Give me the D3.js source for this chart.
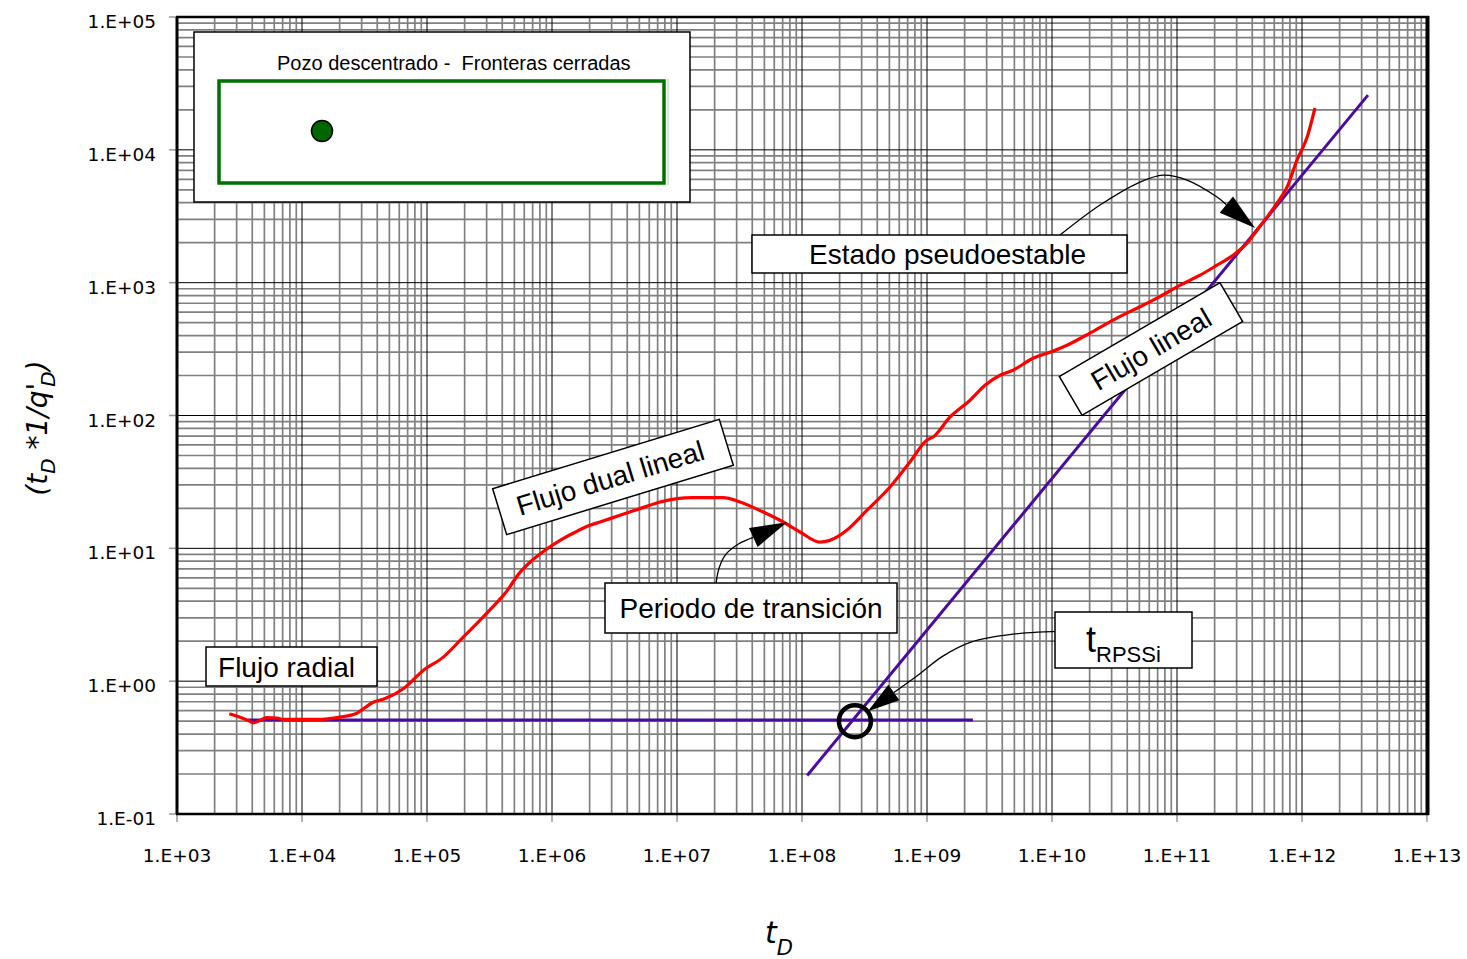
<!DOCTYPE html>
<html>
<head>
<meta charset="utf-8">
<script src="https://cdn.jsdelivr.net/npm/d3@7"></script>
<style>
  body { margin: 0; background: #fff; }
  svg { display: block; }
  .tick-label { font-family: "DejaVu Sans", sans-serif; font-size: 18.5px; fill: #000; }
  .note { font-family: "Liberation Sans", Arial, sans-serif; font-size: 28px; fill: #000; }
</style>
</head>
<body>
<div id="chart"></div>
<script>
'use strict';

// axis ticks
var xTicks = [1e3, 1e4, 1e5, 1e6, 1e7, 1e8, 1e9, 1e10, 1e11, 1e12, 1e13];
var xTickLabels = ['1.E+03', '1.E+04', '1.E+05', '1.E+06', '1.E+07', '1.E+08', '1.E+09', '1.E+10', '1.E+11', '1.E+12', '1.E+13'];
var yTicks = [1e-1, 1e0, 1e1, 1e2, 1e3, 1e4, 1e5];
var yTickLabels = ['1.E-01', '1.E+00', '1.E+01', '1.E+02', '1.E+03', '1.E+04', '1.E+05'];

// red curve: tD vs tD*1/qD'
var tD = [2.62e3, 3.19e3, 3.72e3, 4.07e3, 4.61e3, 5.22e3, 6.28e3, 7.08e3, 1.31e4, 2.01e4,
  2.74e4, 3.72e4, 4.47e4, 6.46e4, 9.33e4, 1.35e5, 1.95e5, 2.65e5, 3.63e5, 4.21e5,
  5.55e5, 6.67e5, 8.79e5, 1.16e6, 1.53e6, 2.01e6, 2.42e6, 3.50e6, 5.06e6, 7.31e6,
  1.35e7, 2.34e7, 3.19e7, 4.90e7, 7.08e7, 9.64e7, 1.39e8, 1.67e8, 2.28e8, 3.30e8,
  5.06e8, 7.31e8, 9.95e8, 1.12e9, 1.53e9, 2.21e9, 2.91e9, 3.84e9, 4.88e9, 7.05e9,
  9.64e9, 1.32e10, 2.01e10, 3.08e10, 4.45e10, 6.92e10, 1.06e11, 1.53e11, 2.09e11, 2.81e11,
  3.63e11, 4.37e11, 5.25e11, 6.31e11, 7.59e11, 9.12e11, 1.10e12, 1.27e12];
var tDq = [0.569, 0.536, 0.506, 0.486, 0.506, 0.531, 0.527, 0.515, 0.515, 0.536,
  0.574, 0.695, 0.730, 0.877, 1.205, 1.517, 2.148, 2.871, 3.917, 4.581,
  6.592, 7.852, 9.66, 11.48, 13.21, 14.89, 15.78, 17.74, 19.91, 22.34,
  24.10, 24.10, 22.34, 18.75, 15.78, 13.27, 11.14, 11.48, 13.68, 19.32,
  28.97, 44.67, 65.16, 68.87, 97.5, 130.3, 169.0, 200.9, 219.3, 269.8,
  299.2, 338.1, 416.9, 522.4, 620.9, 763.8, 957.4, 1138, 1355, 1611,
  1986, 2483, 3112, 3972, 5236, 8375, 12470, 20650];

// straight lines (radial flow, linear flow)
var radialT = [3.70e3, 2.33e9];
var radialV = [0.51, 0.51];
var linearT = [1.10e8, 3.37e12];
var linearV = [0.195, 2.58e4];

// marked points
var tRPSSi = [2.65e8, 0.5];
var pssTarget = [4.21e11, 2576];
var transTarget = [7.59e7, 15.7];

var width = 1467, height = 959;
var margin = {left: 177, right: 40, top: 17, bottom: 145};

var svg = d3.select('#chart').append('svg')
    .attr('width', width)
    .attr('height', height);

svg.append('rect').attr('width', width).attr('height', height).attr('fill', '#fff');

var x = d3.scaleLog()
  .domain([1e3, 1e13])
  .range([margin.left, width - margin.right]);

var y = d3.scaleLog()
  .domain([1e-1, 1e5])
  .range([height - margin.bottom, margin.top]);

var x0 = x.range()[0], x1 = x.range()[1];
var y0 = y.range()[1], y1 = y.range()[0];

// gridlines, 1..9 per decade
var xGrid = [], yGrid = [];
d3.range(3, 13).forEach(function(d) {
  d3.range(2, 10).forEach(function(k) { xGrid.push(k * Math.pow(10, d)); });
});
d3.range(-1, 5).forEach(function(d) {
  d3.range(2, 10).forEach(function(k) { yGrid.push(k * Math.pow(10, d)); });
});

var grid = svg.append('g').attr('class', 'grid');

grid.selectAll('line.vminor')
  .data(xGrid)
  .enter().append('line')
  .attr('x1', function(d) { return x(d); })
  .attr('x2', function(d) { return x(d); })
  .attr('y1', y0).attr('y2', y1)
  .attr('stroke', '#808080')
  .attr('stroke-width', 1.7);

grid.selectAll('line.hminor')
  .data(yGrid)
  .enter().append('line')
  .attr('y1', function(d) { return y(d); })
  .attr('y2', function(d) { return y(d); })
  .attr('x1', x0).attr('x2', x1)
  .attr('stroke', '#808080')
  .attr('stroke-width', 1.7);

grid.selectAll('line.vmajor')
  .data(xTicks)
  .enter().append('line')
  .attr('x1', function(d) { return x(d); })
  .attr('x2', function(d) { return x(d); })
  .attr('y1', y0).attr('y2', y1)
  .attr('stroke', '#000')
  .attr('stroke-width', 1);

grid.selectAll('line.hmajor')
  .data(yTicks)
  .enter().append('line')
  .attr('y1', function(d) { return y(d); })
  .attr('y2', function(d) { return y(d); })
  .attr('x1', x0).attr('x2', x1)
  .attr('stroke', '#000')
  .attr('stroke-width', 1);

// outside tick marks + labels
var axes = svg.append('g');

axes.selectAll('line.xt')
  .data(xTicks)
  .enter().append('line')
  .attr('x1', function(d) { return x(d); })
  .attr('x2', function(d) { return x(d); })
  .attr('y1', y1).attr('y2', y1 + 8)
  .attr('stroke', '#999').attr('stroke-width', 1.5);

axes.selectAll('line.yt')
  .data(yTicks)
  .enter().append('line')
  .attr('y1', function(d) { return y(d); })
  .attr('y2', function(d) { return y(d); })
  .attr('x1', x0 - 8).attr('x2', x0)
  .attr('stroke', '#999').attr('stroke-width', 1.5);

axes.selectAll('text.xl')
  .data(xTicks)
  .enter().append('text')
  .attr('class', 'tick-label')
  .attr('x', function(d) { return x(d); })
  .attr('y', y1 + 48)
  .attr('text-anchor', 'middle')
  .text(function(d, i) { return xTickLabels[i]; });

axes.selectAll('text.yl')
  .data(yTicks)
  .enter().append('text')
  .attr('class', 'tick-label')
  .attr('x', x0 - 21)
  .attr('y', function(d) { return y(d) + 11; })
  .attr('text-anchor', 'end')
  .text(function(d, i) { return yTickLabels[i]; });

// axis titles
var xTitle = svg.append('text')
  .attr('x', 765).attr('y', 943)
  .attr('font-family', '"DejaVu Sans", sans-serif')
  .attr('font-style', 'italic')
  .attr('font-size', 30);
xTitle.append('tspan').text('t');
xTitle.append('tspan').attr('font-size', 21).attr('dy', 12).text('D');

var yTitle = svg.append('text')
  .attr('transform', 'translate(47,428) rotate(-90)')
  .attr('text-anchor', 'middle')
  .attr('font-family', '"DejaVu Sans", sans-serif')
  .attr('font-style', 'italic')
  .attr('font-size', 28);
yTitle.append('tspan').text('(t');
yTitle.append('tspan').attr('font-size', 20).attr('dy', 8).text('D');
yTitle.append('tspan').attr('dy', -8).text(' *1/q\'');
yTitle.append('tspan').attr('font-size', 20).attr('dy', 8).attr('dx', -4).text('D');
yTitle.append('tspan').attr('dy', -8).text(')');

// series
svg.append('clipPath').attr('id', 'plot-clip')
  .append('rect').attr('x', x0).attr('y', y0).attr('width', x1 - x0).attr('height', y1 - y0);

var plot = svg.append('g').attr('clip-path', 'url(#plot-clip)');

var line = d3.line()
  .x(function(d) { return x(d[0]); })
  .y(function(d) { return y(d[1]); });

plot.append('path')
  .datum(d3.zip(radialT, radialV))
  .attr('d', line)
  .attr('fill', 'none')
  .attr('stroke', '#4b0c9e')
  .attr('stroke-width', 3);

plot.append('path')
  .datum(d3.zip(linearT, linearV))
  .attr('d', line)
  .attr('fill', 'none')
  .attr('stroke', '#4b0c9e')
  .attr('stroke-width', 3);

plot.append('path')
  .datum(d3.zip(tD, tDq))
  .attr('d', line.curve(d3.curveMonotoneX))
  .attr('fill', 'none')
  .attr('stroke', '#ff0000')
  .attr('stroke-width', 3.2)
  .attr('stroke-linejoin', 'round');

// plot border
var border = svg.append('g').attr('stroke', '#000').attr('fill', 'none');
border.append('line').attr('x1', x0 - 1).attr('x2', x1 + 2).attr('y1', y0).attr('y2', y0).attr('stroke-width', 2.5);
border.append('line').attr('x1', x0 - 1).attr('x2', x1 + 2).attr('y1', y1).attr('y2', y1).attr('stroke-width', 2.5);
border.append('line').attr('x1', x0).attr('x2', x0).attr('y1', y0).attr('y2', y1).attr('stroke-width', 3);
border.append('line').attr('x1', x1 + 0.5).attr('x2', x1 + 0.5).attr('y1', y0 - 1).attr('y2', y1 + 1).attr('stroke-width', 4);

// legend / sketch of the reservoir
var legend = svg.append('g');
legend.append('rect')
  .attr('x', 194).attr('y', 32).attr('width', 496).attr('height', 170)
  .attr('fill', '#fff').attr('stroke', '#000').attr('stroke-width', 1.5);
legend.append('text')
  .attr('x', 277).attr('y', 70)
  .attr('font-family', '"Liberation Sans", Arial, sans-serif')
  .attr('font-size', 20)
  .style('white-space', 'pre')
  .text('Pozo descentrado -  Fronteras cerradas');
legend.append('line')
  .attr('x1', 668).attr('x2', 668).attr('y1', 79).attr('y2', 185)
  .attr('stroke', '#a8d8a8').attr('stroke-width', 1);
legend.append('rect')
  .attr('x', 219).attr('y', 81).attr('width', 445).attr('height', 102)
  .attr('fill', 'none').attr('stroke', '#007000').attr('stroke-width', 3.5);
legend.append('circle')
  .attr('cx', 322).attr('cy', 131).attr('r', 10.5)
  .attr('fill', '#006600').attr('stroke', '#000').attr('stroke-width', 1.5);

// annotation helpers
function box(g, cx, cy, w, h, angle, label, tdx) {
  var b = g.append('g').attr('transform', 'translate(' + cx + ',' + cy + ') rotate(' + angle + ')');
  b.append('rect')
    .attr('x', -w / 2).attr('y', -h / 2).attr('width', w).attr('height', h)
    .attr('fill', '#fff').attr('stroke', '#000').attr('stroke-width', 1.5);
  b.append('text')
    .attr('class', 'note')
    .attr('text-anchor', 'middle')
    .attr('x', tdx || 0)
    .attr('y', 10)
    .text(label);
  return b;
}

function arrow(g, tip, offsets, headLen, headW) {
  var pts = offsets.map(function(o) { return [tip[0] + o[0], tip[1] + o[1]]; });
  var last = pts[pts.length - 1];
  var dx = tip[0] - last[0], dy = tip[1] - last[1];
  var len = Math.sqrt(dx * dx + dy * dy);
  var ux = dx / len, uy = dy / len;
  var base = [tip[0] - ux * headLen, tip[1] - uy * headLen];
  pts.push(base);
  g.append('path')
    .attr('d', d3.line().curve(d3.curveCatmullRom)(pts))
    .attr('fill', 'none').attr('stroke', '#000').attr('stroke-width', 1.3);
  var px = -uy * headW / 2, py = ux * headW / 2;
  g.append('path')
    .attr('d', 'M' + tip[0] + ',' + tip[1] +
      'L' + (base[0] + px) + ',' + (base[1] + py) +
      'L' + (base[0] - px) + ',' + (base[1] - py) + 'Z')
    .attr('fill', '#000');
}

var notes = svg.append('g');

// Estado pseudoestable
var pssTip = [x(pssTarget[0]), y(pssTarget[1])];
arrow(notes, pssTip, [[-195, 7], [-155, -23], [-115, -46], [-92, -53], [-68, -48], [-38, -31]], 37, 21);
box(notes, 939.5, 254, 375, 38, 0, 'Estado pseudoestable', 8);

// Periodo de transición
var trTip = [x(transTarget[0]), y(transTarget[1])];
arrow(notes, trTip, [[-71, 61], [-68, 46], [-62, 33], [-49, 22]], 37, 21);
box(notes, 751, 608, 292, 50, 0, 'Periodo de transición');

// Flujo radial, dual lineal, lineal
box(notes, 291.5, 666.5, 171, 39, 0, 'Flujo radial', -5);
box(notes, 613, 477, 237, 48, -17, 'Flujo dual lineal', -3);
box(notes, 1151, 349, 186, 45, -30.3, 'Flujo lineal');

// tRPSSi
var cpt = [x(tRPSSi[0]), y(tRPSSi[1])];
arrow(notes, [cpt[0] + 13, cpt[1] - 10], [[200, -80], [145, -77], [103, -69], [75, -55], [50, -36]], 32, 19);
notes.append('circle')
  .attr('cx', cpt[0]).attr('cy', cpt[1]).attr('r', 16)
  .attr('fill', 'none').attr('stroke', '#000').attr('stroke-width', 4.5);

var tb = notes.append('g');
tb.append('rect')
  .attr('x', 1055).attr('y', 612).attr('width', 137).attr('height', 56)
  .attr('fill', '#fff').attr('stroke', '#000').attr('stroke-width', 1.5);
var tt = tb.append('text')
  .attr('x', 1086).attr('y', 652)
  .attr('font-family', '"Liberation Sans", Arial, sans-serif')
  .attr('font-size', 36);
tt.append('tspan').text('t');
tt.append('tspan').attr('font-size', 22).attr('dy', 10).text('RPSSi');
</script>
</body>
</html>
